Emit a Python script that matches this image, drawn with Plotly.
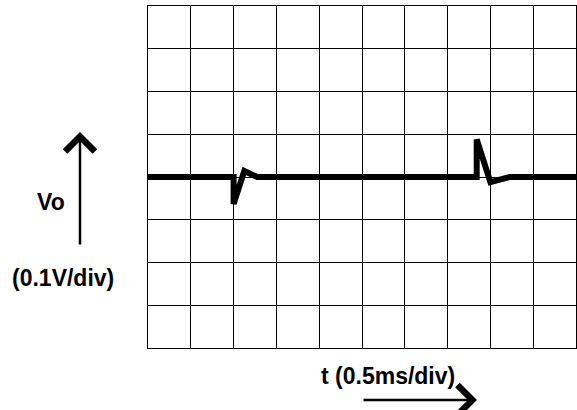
import plotly.graph_objects as go

# Oscilloscope trace: time in ms (0.5 ms/div), Vo in volts (0.1 V/div)
t_ms = [0.0, 1.0, 1.0, 1.125, 1.275, 3.84, 3.84, 4.0, 4.225, 5.0]
vo_v = [0.0, 0.0, -0.063, 0.014, 0.0, 0.0, 0.088, -0.012, 0.0, 0.0]

x_range = [0.0, 5.0]
y_range = [-0.4, 0.4]
x_div = 0.5
y_div = 0.1

y_label = "Vo"
y_scale = "(0.1V/div)"
x_label = "t (0.5ms/div)"

font = dict(family="Liberation Sans, Arial, sans-serif", size=23, color="black")

fig = go.Figure()
fig.add_trace(go.Scatter(x=t_ms, y=vo_v, mode="lines",
                         line=dict(color="black", width=6), hoverinfo="skip"))

axis_common = dict(showgrid=True, gridcolor="black", gridwidth=1, zeroline=False,
                   showticklabels=False, ticks="", showline=True, linecolor="black",
                   linewidth=1, mirror=True, fixedrange=True)
fig.update_xaxes(range=x_range, dtick=x_div, tick0=0, **axis_common)
fig.update_yaxes(range=y_range, dtick=y_div, tick0=-0.4, **axis_common)

fig.update_layout(
    width=577, height=410,
    margin=dict(l=148, r=1, t=6, b=62),
    paper_bgcolor="white", plot_bgcolor="white",
    showlegend=False,
    font=font,
)

# vertical arrow
fig.add_annotation(x=-0.1589, y=0.6316, xref="paper", yref="paper",
                   ax=0, ay=114, axref="pixel", ayref="pixel", text="",
                   showarrow=True, arrowhead=4, arrowsize=2.3, arrowwidth=2.5,
                   arrowcolor="black")
# horizontal arrow
fig.add_annotation(x=0.7687, y=-0.152, xref="paper", yref="paper",
                   ax=-115, ay=0, axref="pixel", ayref="pixel", text="",
                   showarrow=True, arrowhead=4, arrowsize=2.3, arrowwidth=2.5,
                   arrowcolor="black")

lab = dict(xref="paper", yref="paper", showarrow=False, font=font,
           xanchor="center", yanchor="middle")
fig.add_annotation(x=-0.2266, y=0.4269, text="<b>" + y_label + "</b>", **lab)
fig.add_annotation(x=-0.1993, y=0.2047, text="<b>" + y_scale + "</b>", **lab)
fig.add_annotation(x=0.5607, y=-0.0819, text="<b>" + x_label + "</b>", **lab)

fig.write_html("out.html", config={"displayModeBar": False},
               post_script="document.body.style.margin='0';")
